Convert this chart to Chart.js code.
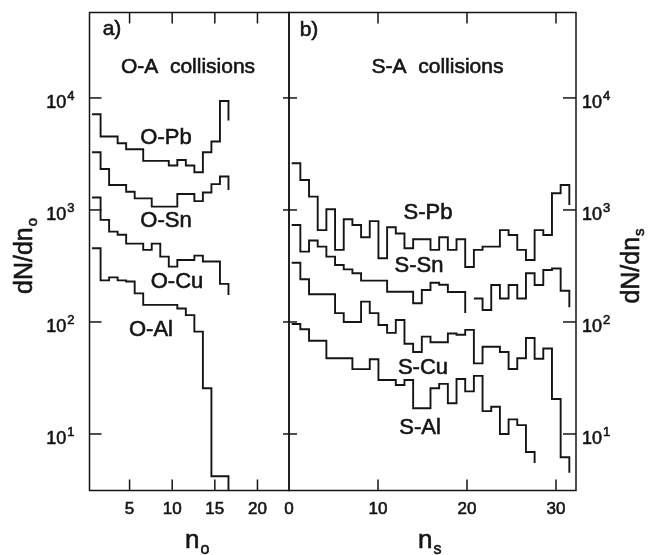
<!DOCTYPE html>
<html>
<head>
<meta charset="utf-8">
<script src="https://cdn.jsdelivr.net/npm/chart.js@4.4.1/dist/chart.umd.min.js"></script>
<style>
  body { margin: 0; background: #fff; }
  #wrap { position: relative; width: 663px; height: 555px; }
  canvas { position: absolute; left: 0; top: 0; }
</style>
</head>
<body>
<div id="wrap">
  <canvas id="panelA" width="663" height="555"></canvas>
  <canvas id="panelB" width="663" height="555"></canvas>
</div>
<script>
// --- multiplicity distributions ---

// panel a: bins n_o = 1..16
const oNames = ['O-Pb', 'O-Sn', 'O-Cu', 'O-Al'];
const oPb = [7150, 4520, 4520, 3940, 3480, 3480, 2740, 2740, 2740, 2490, 2790, 2490, 2170, 3270, 4080, 9400];
const oSn = [3270, 2320, 1670, 1670, 1456, 1270, 1270, 1070, 1070, 1070, 1390, 1390, 1200, 1430, 1700, 1990];
const oCu = [1290, 815, 640, 600, 500, 500, 440, 500, 383, 312, 358, 358, 391, 347, 347, 219];
const oAl = [455, 235, 250, 235, 230, 180, 142, 142, 142, 142, 132, 115, 82, 25.6, 4.2, 4.2];
// level where the closing edge of each run stops
const oPbEnd = [6300];
const oSnEnd = [1510];
const oCuEnd = [174];
const oAl_End = [2];

// panel b: 32 bins in n_s (null = empty bin)
const sNames = ['S-Pb', 'S-Sn', 'S-Cu', 'S-Al'];
const sPb = [2610, 1850, 1315, 661, 1014, 440, 826, 735, 570, 795, 370, 700, 617, 455, 548, 548,
             440, 570, 440, 548, 310, 440, 471, 471, 661, 598, 440, 358, 661, 598, 1409, 1670];
const sSn = [735, 425, 533, 471, 383, 323, 295, 272, 234, 234, 234, 186, 186, 186, 147, 193,
             224, 215, 185, 185, null, 162, 128, 214, 162, 214, 162, 272, 214, 291, 300, 190];
const sCu = [338, 241, 177, 177, 177, 120, 100, 100, 152, 120, 94, 80, 104, 64, 54, 74,
             66, 66, 79, 77, 85, 42.7, 60, 60, 54, 38, 47.5, 72, 47, 58, 20.5, 6.2];
const sAl = [96, 86, 68, 68, 47.5, 47.5, 47.5, 37.9, 37.9, 46.5, 30.3, 30.3, 27.4, 30.3, 17, 17,
             25.6, 28, 18.8, 31, 24, 33, 16, 17.5, 10, 13.5, 12, 6.9];
const sPbEnd = [1110];
const sSnEnd = [120, 135];
const sCuEnd = [4.5];
const sAlEnd = [5.5];

// bins / axes
const binStartA = 0.6, binWidthA = 1;
const binStartB = 0.3, binWidthB = 0.975;
const xTicksA = [5, 10, 15, 20];
const xTicksB = [0, 10, 20, 30];
const yTickValues = [10, 100, 1000, 10000];
const yTickExponents = ['1', '2', '3', '4'];

const ink = '#151515';
const face = '"Liberation Sans", Arial, Helvetica, sans-serif';

// turn bin contents into points for a stepped line; runs broken by null get their own closing edge
function histPoints(vals, start, width, ends) {
    const pts = [];
    let run = 0, open = false;
    vals.forEach((v, i) => {
        const x0 = start + i * width;
        if (v === null) {
            if (open) {
                pts.push({ x: x0, y: ends[run++] });
                pts.push({ x: x0 + width / 2, y: null });
                open = false;
            }
            return;
        }
        pts.push({ x: x0, y: v });
        open = true;
    });
    if (open) pts.push({ x: start + vals.length * width, y: ends[run] });
    return pts;
}

function dataset(label, pts) {
    return {
        label: label,
        data: pts,
        stepped: true,
        borderColor: ink,
        borderWidth: 1.9,
        pointRadius: 0,
        fill: false,
        spanGaps: false
    };
}

function seg(ctx, x1, y1, x2, y2) {
    ctx.beginPath(); ctx.moveTo(x1, y1); ctx.lineTo(x2, y2); ctx.stroke();
}

// the scanned lettering is heavy, so fill and lightly stroke
function inkText(ctx, s, x, y) {
    ctx.fillText(s, x, y);
    ctx.strokeText(s, x, y);
}

// base text followed by a smaller raised (raise > 0) or lowered (raise < 0) script
function richText(ctx, x, y, base, script, size, scriptSize, raise, align) {
    ctx.textAlign = 'left';
    ctx.textBaseline = 'alphabetic';
    ctx.font = `${size}px ${face}`;
    const w1 = ctx.measureText(base).width;
    ctx.font = `${scriptSize}px ${face}`;
    const w2 = ctx.measureText(script).width;
    let x0 = x;
    if (align === 'right') x0 = x - w1 - w2 - 1;
    if (align === 'center') x0 = x - (w1 + w2 + 1) / 2;
    ctx.font = `${size}px ${face}`;
    inkText(ctx, base, x0, y);
    ctx.font = `${scriptSize}px ${face}`;
    inkText(ctx, script, x0 + w1 + 1, y - raise);
}

const framePlugin = {
    id: 'frame',
    afterDatasetsDraw(chart, args, o) {
        const { ctx, chartArea: a } = chart;
        const xs = chart.scales.x, ys = chart.scales.y;
        ctx.save();
        ctx.strokeStyle = ink;
        ctx.fillStyle = ink;
        ctx.lineWidth = 1.5;
        ctx.strokeRect(a.left, a.top, a.right - a.left, a.bottom - a.top);

        // decade ticks, pointing inward on both sides
        yTickValues.forEach(v => {
            const py = ys.getPixelForValue(v);
            seg(ctx, a.left, py, a.left + o.yTickIn[0], py);
            seg(ctx, a.right - o.yTickIn[1], py, a.right, py);
        });
        o.xTicks.forEach(v => {
            const px = xs.getPixelForValue(v);
            if (px > a.left + 2) {
                seg(ctx, px, a.bottom, px, a.bottom - 11);
                seg(ctx, px, a.top, px, a.top + 11);
            }
        });

        ctx.lineWidth = 0.6;
        yTickValues.forEach((v, i) => {
            const py = ys.getPixelForValue(v);
            if (o.labelSide === 'left') {
                richText(ctx, a.left - 15, py + 10, '10', yTickExponents[i], 18, 13, 8, 'right');
            } else {
                richText(ctx, a.right + 6, py + 10, '10', yTickExponents[i], 18, 13, 8, 'left');
            }
        });
        o.xTicks.forEach(v => {
            const px = xs.getPixelForValue(v);
            ctx.font = `17px ${face}`;
            ctx.textAlign = 'center';
            ctx.textBaseline = 'alphabetic';
            inkText(ctx, String(v), px, a.bottom + 23);
        });

        // axis titles
        richText(ctx, o.xTitle[0], o.xTitle[1], 'n', o.sub, 26, 16, -6, 'left');
        ctx.save();
        ctx.translate(o.yTitle[0], o.yTitle[1]);
        ctx.rotate(-Math.PI / 2);
        richText(ctx, 0, 9, 'dN/dn', o.sub, 25, 15, -5, 'center');
        ctx.restore();

        // panel tag, heading and curve names
        ctx.font = `21px ${face}`;
        ctx.textAlign = 'center';
        ctx.textBaseline = 'middle';
        inkText(ctx, o.tag, o.tagPos[0], o.tagPos[1]);
        inkText(ctx, o.heading, o.headPos[0], o.headPos[1]);
        ctx.font = `22px ${face}`;
        o.names.forEach((n, i) => inkText(ctx, n, o.namePos[i][0], o.namePos[i][1]));
        ctx.restore();
    }
};

const yScale = { type: 'logarithmic', min: 3.13, max: 57900, display: false };

function makeChart(id, datasets, xMin, xMax, pad, deco) {
    return new Chart(document.getElementById(id), {
        type: 'line',
        data: { datasets: datasets },
        options: {
            responsive: false,
            animation: false,
            devicePixelRatio: 1,
            parsing: false,
            layout: { padding: pad },
            plugins: { legend: { display: false }, tooltip: { enabled: false }, frame: deco },
            scales: {
                x: { type: 'linear', min: xMin, max: xMax, display: false },
                y: yScale
            }
        },
        plugins: [framePlugin]
    });
}

makeChart('panelA', [
    dataset(oNames[0], histPoints(oPb, binStartA, binWidthA, oPbEnd)),
    dataset(oNames[1], histPoints(oSn, binStartA, binWidthA, oSnEnd)),
    dataset(oNames[2], histPoints(oCu, binStartA, binWidthA, oCuEnd)),
    dataset(oNames[3], histPoints(oAl, binStartA, binWidthA, oAl_End))
], 0.3, 23.7, { left: 89.5, right: 374, top: 12.5, bottom: 64.5 }, {
    labelSide: 'left', yTickIn: [12, 6], xTicks: xTicksA, sub: 'o',
    xTitle: [185, 548], yTitle: [23, 256],
    tag: 'a)', tagPos: [112, 29], heading: 'O-A  collisions', headPos: [188, 67],
    names: oNames, namePos: [[166, 138], [166, 221], [177, 282], [151, 330]]
});

makeChart('panelB', [
    dataset(sNames[0], histPoints(sPb, binStartB, binWidthB, sPbEnd)),
    dataset(sNames[1], histPoints(sSn, binStartB, binWidthB, sSnEnd)),
    dataset(sNames[2], histPoints(sCu, binStartB, binWidthB, sCuEnd)),
    dataset(sNames[3], histPoints(sAl, binStartB, binWidthB, sAlEnd))
], 0, 32.25, { left: 289, right: 87, top: 12.5, bottom: 64.5 }, {
    labelSide: 'right', yTickIn: [8, 13], xTicks: xTicksB, sub: 's',
    xTitle: [418, 548], yTitle: [630, 266],
    tag: 'b)', tagPos: [309, 30], heading: 'S-A  collisions', headPos: [437.5, 67],
    names: sNames, namePos: [[428, 213], [419, 266], [423, 368], [420, 428]]
});
</script>
</body>
</html>
